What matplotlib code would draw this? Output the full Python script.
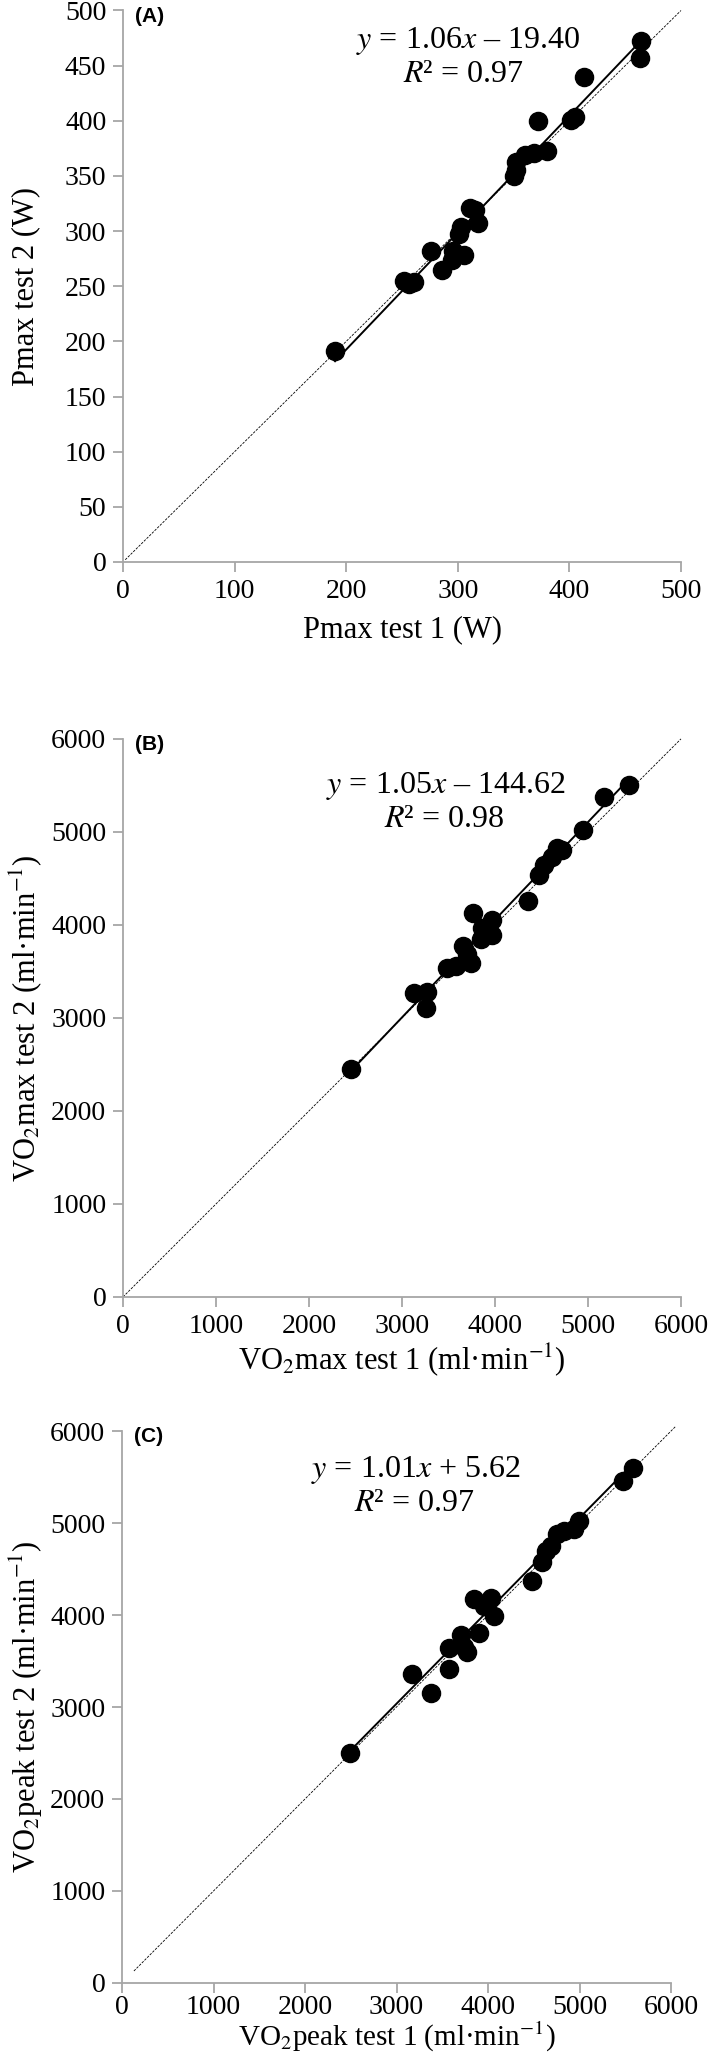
import numpy as np
import matplotlib
matplotlib.use('Agg')
import matplotlib.pyplot as plt

plt.rcParams['font.family'] = ['Liberation Serif', 'DejaVu Serif']
plt.rcParams['mathtext.fontset'] = 'stix'

# panel A - Pmax (W)
pmax_t1 = [464, 463, 413, 372, 401, 405, 380, 368, 360, 352, 350, 352, 311, 315,
           318, 303, 301, 276, 296, 295, 306, 286, 252, 256, 261, 190]
pmax_t2 = [472, 457, 440, 400, 401, 403, 373, 371, 369, 363, 350, 355, 321, 319,
           307, 304, 297, 282, 282, 274, 278, 265, 255, 252, 254, 191]

# panel B - VO2max (ml/min)
vo2max_t1 = [5441, 5172, 4946, 4670, 4724, 4617, 4527, 4473, 4358, 3764, 3964, 3864,
             3971, 3846, 3656, 3702, 3739, 3488, 3577, 3129, 3272, 3255, 2448]
vo2max_t2 = [5500, 5377, 5015, 4824, 4805, 4732, 4642, 4533, 4254, 4124, 4052, 3972,
             3893, 3846, 3773, 3682, 3592, 3537, 3556, 3266, 3277, 3103, 2451]

# panel C - VO2peak (ml/min)
vo2peak_t1 = [5580, 5471, 4996, 4942, 4832, 4759, 4686, 4631, 4595, 4486, 3847, 4029,
              3956, 4065, 3901, 3701, 3573, 3737, 3774, 3573, 3172, 3372, 2496]
vo2peak_t2 = [5598, 5452, 5023, 4939, 4913, 4884, 4755, 4700, 4572, 4371, 4169, 4187,
              4096, 3986, 3803, 3784, 3638, 3656, 3601, 3408, 3363, 3154, 2502]

slopes = [1.06, 1.05, 1.01]
intercepts = [-19.40, -144.62, 5.62]
equations = ['$y$ = 1.06$x$ \u2013 19.40', '$y$ = 1.05$x$ \u2013 144.62', '$y$ = 1.01$x$ + 5.62']
r2_texts = ['$R$\u00b2 = 0.97', '$R$\u00b2 = 0.98', '$R$\u00b2 = 0.97']
panel_names = ['(A)', '(B)', '(C)']
xlabels = ['Pmax test 1 (W)', 'VO$_2$max test 1 (ml\u00b7min$^{-1}$)', 'VO$_2$peak test 1 (ml\u00b7min$^{-1}$)']
ylabels = ['Pmax test 2 (W)', 'VO$_2$max test 2 (ml\u00b7min$^{-1}$)', 'VO$_2$peak test 2 (ml\u00b7min$^{-1}$)']
axis_max = [500, 6000, 6000]
xtick_step = [100, 1000, 1000]
ytick_step = [50, 1000, 1000]
identity_range = [(2, 500), (0, 6000), (130, 6050)]

xs = [pmax_t1, vo2max_t1, vo2peak_t1]
ys = [pmax_t2, vo2max_t2, vo2peak_t2]

fig = plt.figure(figsize=(7.09, 20.57), dpi=100)
rects = [[0.1735, 0.7268, 0.787, 0.2681],
         [0.1735, 0.3695, 0.787, 0.2713],
         [0.1721, 0.0360, 0.7743, 0.2683]]
eq_pos = [(0.6175, 0.945, 0.610, 0.884),
          (0.579, 0.915, 0.575, 0.856),
          (0.535, 0.929, 0.533, 0.868)]
xlab_y = [-0.123, -0.112, -0.098]
xlab_size = [22, 22, 21]
xpad = [5, 5, 2]

gray = '#a6a6a6'
for i in range(3):
    ax = fig.add_axes(rects[i])
    x = np.array(xs[i])
    y = np.array(ys[i])
    m = axis_max[i]

    # line of identity
    a, b = identity_range[i]
    ax.plot([a, b], [a, b], color='black', lw=0.6, ls=(0, (3, 1.5)), clip_on=False, zorder=1)
    # regression line
    xr = np.array([x.min(), x.max()])
    ax.plot(xr, slopes[i] * xr + intercepts[i], color='black', lw=1.4, zorder=2)
    ax.scatter(x, y, s=170, color='black', zorder=3, clip_on=False)

    ax.set_xlim(0, m)
    ax.set_ylim(0, m)
    ax.set_xticks(np.arange(0, m + 1, xtick_step[i]))
    ax.set_yticks(np.arange(0, m + 1, ytick_step[i]))
    for s in ['top', 'right']:
        ax.spines[s].set_visible(False)
    for s in ['left', 'bottom']:
        ax.spines[s].set_color(gray)
        ax.spines[s].set_linewidth(1.3)
    ax.tick_params(direction='out', length=7, width=1.3, color=gray, labelsize=20)
    ax.tick_params(axis='y', pad=5)
    ax.tick_params(axis='x', pad=xpad[i])

    ax.set_xlabel(xlabels[i], fontsize=xlab_size[i])
    ax.set_ylabel(ylabels[i], fontsize=22)
    ax.xaxis.set_label_coords(0.5, xlab_y[i])
    ax.xaxis.label.set_va('center')
    ax.yaxis.set_label_coords(-0.174, 0.5)
    ax.yaxis.label.set_va('center')

    ex1, ey1, ex2, ey2 = eq_pos[i]
    ax.text(ex1, ey1, equations[i], transform=ax.transAxes, fontsize=23, ha='center', va='center')
    ax.text(ex2, ey2, r2_texts[i], transform=ax.transAxes, fontsize=23, ha='center', va='center')
    ax.text(0.022, 0.99, panel_names[i], transform=ax.transAxes, fontsize=15,
            fontweight='bold', family='Liberation Sans', ha='left', va='center')

fig.savefig('out.png', dpi=100)
